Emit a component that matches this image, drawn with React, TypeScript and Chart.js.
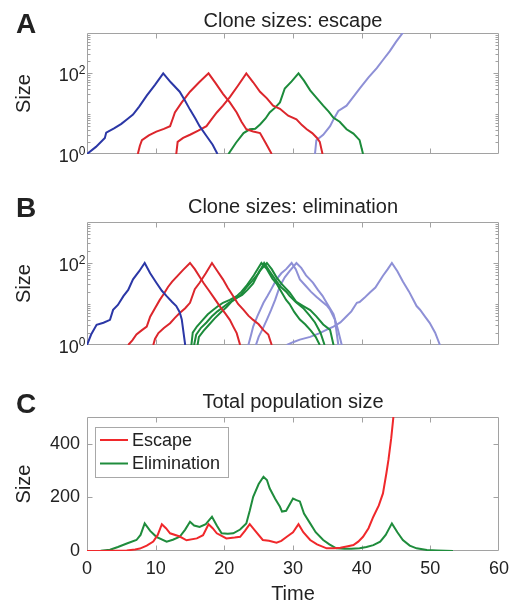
import React, { useEffect, useRef } from "react";
import { Chart, registerables } from "chart.js";

Chart.register(...registerables);

const FONT = "'Liberation Sans', Arial, Helvetica, sans-serif";
const TEXT = "#222222";
const AXIS = "#a2a2a2";

const DARK_BLUE = "#2b37a6";
const RED = "#dc262c";
const GREEN = "#1c8b3b";
const LAVENDER = "#8e90d6";
const ESC_RED = "#f0282b";
const ELIM_GREEN = "#1f8c3c";

// ---------- Panel A: clone sizes, escape ----------
const aBlueT = [0, 1.3, 2.6, 2.8, 4.0, 5.0, 5.8, 6.7, 7.6, 8.7, 9.9, 11.1, 12.2, 13.5, 14.2, 15.0, 15.8, 16.4, 17.4, 18.3, 19.0];
const aBlueS = [1, 1.5, 2.5, 3.4, 4.4, 5.6, 7.2, 9.5, 15, 28, 52, 100, 60, 35, 22, 12.6, 7.5, 4.9, 2.8, 1.7, 1];
const aRed1T = [7.4, 7.7, 8.0, 9.0, 10.1, 11.2, 12.1, 12.5, 12.8, 13.8, 15.0, 16.3, 17.7, 18.7, 19.8, 20.8, 21.8, 22.5, 23.2, 24.2, 25.2, 26.0, 26.9];
const aRed1S = [1, 1.6, 2.2, 2.9, 3.6, 4.2, 4.9, 7.6, 10.7, 19, 35, 59, 100, 58, 31, 19, 10.7, 6.3, 4.1, 3.6, 3.3, 1.9, 1];
const aRed2T = [13.0, 13.2, 14.0, 15.0, 16.2, 17.4, 18.1, 18.9, 19.8, 20.8, 22.0, 23.2, 24.2, 25.2, 26.2, 27.1, 28.1, 29.3, 30.5, 31.3, 32.0, 32.8, 33.5, 33.9, 34.3];
const aRed2S = [1, 2.0, 2.5, 3.0, 3.8, 4.9, 7.1, 10.7, 15.8, 25.7, 50, 100, 60, 35, 24, 15.8, 13.2, 8.9, 7.2, 5.2, 4.1, 3.3, 2.5, 2.0, 1];
const aGreenT = [20.6, 21.7, 22.8, 23.7, 24.5, 25.2, 26.0, 26.6, 27.4, 28.1, 28.8, 29.8, 30.8, 31.6, 32.5, 33.4, 34.4, 35.2, 35.9, 36.8, 37.8, 38.8, 39.7, 40.2];
const aGreenS = [1, 1.9, 3.3, 4.1, 4.2, 5.4, 7.6, 10.7, 14.1, 19, 42, 63, 100, 66, 38, 25, 15.8, 11.2, 7.9, 6.3, 4.1, 3.2, 2.2, 1];
const aLavT = [33.2, 33.4, 34.4, 35.4, 35.9, 36.6, 37.8, 38.7, 39.7, 41.0, 42.2, 43.1, 44.1, 45.0, 46.0, 46.5];
const aLavS = [1, 2.2, 3.0, 4.9, 7.2, 11.7, 15.8, 25, 42, 79, 135, 214, 355, 600, 1020, 1350];

// ---------- Panel B: clone sizes, elimination ----------
const bBlueT = [0, 0.6, 1.4, 2.4, 3.35, 3.8, 4.5, 5.3, 6.0, 6.7, 7.6, 8.4, 9.2, 10.1, 10.9, 11.6, 12.4, 13.0, 13.5, 13.8, 14.3];
const bBlueS = [1, 1.8, 3.1, 3.5, 4.1, 7.2, 9.5, 15.5, 22, 40, 63, 100, 56, 33, 21, 15.5, 11.2, 8.9, 6.3, 4.2, 1];
const bRed1T = [6.0, 6.6, 7.2, 8.0, 8.7, 9.2, 9.9, 10.6, 11.2, 11.8, 12.4, 13.05, 14.0, 15.0, 15.7, 16.4, 17.0, 17.7, 18.5, 19.4, 20.1, 20.8, 21.3, 21.8, 22.3];
const bRed1S = [1, 1.3, 1.8, 2.3, 2.8, 4.9, 7.9, 12.6, 17.8, 26, 35, 46, 68, 100, 71, 46, 32, 22, 14.1, 8.5, 6.0, 4.1, 2.8, 1.95, 1];
const bRed2T = [9.65, 9.9, 10.4, 11.2, 12.1, 12.8, 13.5, 14.3, 15.0, 15.7, 16.4, 17.3, 18.2, 19.0, 19.8, 20.5, 21.3, 22.0, 22.8, 23.5, 24.2, 25.0, 25.7, 26.4, 26.9];
const bRed2S = [1, 1.4, 1.95, 2.6, 3.4, 4.6, 6.0, 7.9, 10.7, 23, 33, 56, 100, 63, 40, 25, 15.5, 10, 7.2, 5.2, 4.1, 3.2, 2.3, 1.8, 1];
const bGreen1T = [15.2, 15.4, 16.0, 16.9, 17.6, 18.4, 19.1, 19.8, 20.8, 21.8, 22.5, 23.2, 24.3, 25.4, 26.2, 27.0, 27.6, 28.3, 29.0, 29.5, 30.2, 31.0, 31.8, 32.6, 33.3, 33.9];
const bGreen1S = [1, 2.0, 2.82, 4.17, 5.62, 7.24, 8.91, 10.7, 12.6, 15.5, 20, 27.5, 50.1, 100, 70.8, 41.7, 31.6, 20, 12.6, 10, 6.31, 4.17, 3.16, 2.24, 1.58, 1];
const bGreen2T = [15.6, 15.9, 16.6, 17.4, 18.2, 19.0, 19.8, 20.6, 21.5, 22.4, 23.2, 24.0, 25.0, 25.8, 26.6, 27.4, 28.2, 29.0, 29.5, 30.4, 31.5, 32.4, 33.2, 34.0, 34.6];
const bGreen2S = [1, 1.78, 2.63, 3.55, 5.01, 6.61, 8.32, 10.5, 13.2, 16.6, 25.1, 35.5, 56.2, 100, 63.1, 39.8, 26.3, 20, 15.8, 11.2, 7.94, 5.25, 3.55, 2.0, 1];
const bGreen3T = [16.1, 16.3, 17.0, 17.8, 18.6, 19.5, 20.3, 21.0, 21.8, 22.6, 23.4, 24.2, 25.1, 26.2, 26.9, 27.6, 28.4, 29.5, 30.5, 31.5, 32.5, 33.4, 34.4, 35.4, 35.9];
const bGreen3S = [1, 1.58, 2.24, 3.16, 4.47, 6.31, 8.32, 11.2, 14.1, 16.6, 22.4, 31.6, 63.1, 100, 70.8, 44.7, 30.2, 19.1, 11.2, 8.91, 7.08, 5.01, 3.16, 2.34, 1];
const bLav1T = [23.5, 23.9, 24.2, 24.8, 25.7, 26.3, 26.8, 27.6, 28.3, 29.0, 29.8, 30.4, 31.0, 31.8, 32.6, 33.4, 34.3, 35.0, 35.4, 36.1, 36.6];
const bLav1S = [1, 1.78, 2.82, 5.01, 10.7, 15.8, 22.4, 39.8, 56.2, 70.8, 100, 70.8, 39.8, 28.2, 20, 15.1, 11.2, 8.91, 7.24, 4.17, 1];
const bLav2T = [24.6, 25.0, 25.6, 26.2, 26.8, 27.4, 28.1, 28.8, 29.5, 30.5, 31.2, 31.9, 32.9, 33.6, 34.3, 35.0, 35.9, 36.5, 37.1];
const bLav2S = [1, 1.58, 2.51, 4.17, 7.08, 12.6, 27.5, 44.7, 63.1, 100, 75.9, 50.1, 33.1, 22.4, 15.8, 10, 5.62, 2.51, 1];
const bLav3T = [29.1, 30.0, 31.0, 32.5, 33.9, 35.0, 35.9, 36.9, 37.8, 38.5, 39.3, 39.7, 40.4, 41.2, 42.0, 43.1, 43.8, 44.4, 45.2, 46.0, 46.9, 48.0, 48.5, 49.2, 49.9, 50.7, 51.4];
const bLav3S = [1, 1.17, 1.35, 1.58, 1.95, 2.4, 2.82, 3.55, 5.01, 6.61, 10.7, 11.2, 14.1, 19.1, 25.1, 49, 70.8, 100, 63.1, 35.5, 20, 8.91, 7.24, 5.01, 3.47, 2.0, 1];

// ---------- Panel C: total population size ----------
const escT = [0, 2, 4, 5.8, 7.0, 7.7, 8.7, 9.65, 10.3, 10.9, 11.5, 12.1, 13.5, 14.5, 16.0, 16.9, 17.7, 18.3, 18.9, 20.3, 21.5, 22.3, 23.0, 23.7, 24.5, 25.6, 26.5, 27.6, 28.3, 29.1, 30.0, 30.8, 31.5, 32.5, 33.5, 34.9, 36.0, 36.9, 38.0, 38.8, 39.5, 40.2, 41.0, 41.7, 42.5, 43.1, 43.6, 43.9, 44.3, 44.6, 44.9];
const escN = [0, 0, 1, 2, 6, 9, 20, 35, 60, 100, 85, 66, 54, 40, 47, 59, 100, 85, 66, 47, 50, 53, 75, 100, 75, 41, 38, 31, 38, 53, 70, 100, 70, 41, 25, 10, 10, 12, 18, 22, 35, 53, 85, 128, 170, 215, 290, 340, 420, 495, 600];
const elimT = [0, 2, 3.35, 4.5, 5.8, 7.2, 7.8, 8.4, 9.2, 10.1, 11.6, 12.5, 13.5, 14.3, 15.0, 15.6, 16.4, 17.3, 18.2, 18.9, 19.6, 20.5, 21.3, 22.3, 23.2, 23.7, 24.2, 25.0, 25.7, 26.2, 26.6, 27.4, 28.1, 28.4, 29.0, 30.0, 30.5, 31.0, 31.6, 32.5, 33.3, 34.4, 35.3, 36.3, 37.5, 38.5, 39.7, 40.7, 41.7, 42.7, 43.5, 44.4, 45.2, 46.0, 47.0, 48.0, 49.5, 51.0, 53.3];
const elimN = [0, 1, 5, 15, 28, 41, 60, 103, 75, 53, 35, 42, 53, 80, 109, 95, 90, 100, 128, 95, 66, 64, 66, 80, 103, 150, 202, 250, 277, 265, 234, 195, 165, 147, 150, 196, 190, 185, 140, 103, 70, 41, 25, 10, 8, 8, 10, 15, 22, 35, 60, 103, 70, 41, 20, 10, 4, 2, 0];

// ---------- ticks / labels ----------
const xTickValues = [0, 10, 20, 30, 40, 50, 60];
const logMajorTicks = [1, 100, 1000];
const logMinorTicks = [2, 3, 4, 5, 6, 7, 8, 9, 10, 20, 30, 40, 50, 60, 70, 80, 90, 200, 300, 400, 500, 600, 700, 800, 900];
const logLabelValues = [1, 100];
const logLabelExps = ["0", "2"];
const popTickValues = [0, 200, 400];
const legendLabels = ["Escape", "Elimination"];
const legendColors = [ESC_RED, ELIM_GREEN];

function series(t: number[], v: number[], color: string) {
  return {
    data: t.map((x, i) => ({ x, y: v[i] })),
    borderColor: color,
    backgroundColor: color,
    borderWidth: 2,
    pointRadius: 0,
    tension: 0,
    fill: false,
  };
}

type FrameCfg = {
  letter: string;
  letterY: number;
  title: string;
  titleY: number;
  log: boolean;
  legend: boolean;
};

function framePlugin(cfg: FrameCfg) {
  return {
    id: "frame" + cfg.letter,
    beforeDatasetsDraw(chart: any) {
      const { ctx, chartArea: a } = chart;
      const xs = chart.scales.x;
      const ys = chart.scales.y;
      const L = Math.round(a.left) + 0.5;
      const R = Math.round(a.right) - 0.5;
      const T = Math.round(a.top) + 0.5;
      const B = Math.round(a.bottom) - 0.5;
      ctx.save();
      ctx.strokeStyle = AXIS;
      ctx.lineWidth = 1;
      ctx.beginPath();
      ctx.rect(L, T, R - L, B - T);
      for (const v of xTickValues) {
        const px = Math.round(xs.getPixelForValue(v)) + 0.5;
        if (px < L + 2 || px > R - 2) continue;
        ctx.moveTo(px, B);
        ctx.lineTo(px, B - 5);
        ctx.moveTo(px, T);
        ctx.lineTo(px, T + 5);
      }
      const yTick = (v: number, len: number) => {
        const py = Math.round(ys.getPixelForValue(v)) + 0.5;
        if (py < T + 1 || py > B - 1) return;
        ctx.moveTo(L, py);
        ctx.lineTo(L + len, py);
        ctx.moveTo(R, py);
        ctx.lineTo(R - len, py);
      };
      if (cfg.log) {
        logMajorTicks.forEach((v) => yTick(v, 5));
        logMinorTicks.forEach((v) => yTick(v, 3));
      } else {
        popTickValues.forEach((v) => yTick(v, 5));
      }
      ctx.stroke();
      ctx.restore();
    },
    afterDraw(chart: any) {
      const { ctx, chartArea: a } = chart;
      const ys = chart.scales.y;
      ctx.save();
      ctx.fillStyle = TEXT;
      ctx.textBaseline = "alphabetic";
      // panel letter
      ctx.textAlign = "left";
      ctx.font = `bold 28px ${FONT}`;
      ctx.fillText(cfg.letter, 16, cfg.letterY);
      // title
      ctx.textAlign = "center";
      ctx.font = `20px ${FONT}`;
      ctx.fillText(cfg.title, (a.left + a.right) / 2, cfg.titleY);
      // log tick labels (10 with superscript)
      if (cfg.log) {
        for (let i = 0; i < logLabelValues.length; i++) {
          const py = ys.getPixelForValue(logLabelValues[i]);
          ctx.textAlign = "right";
          ctx.font = `12px ${FONT}`;
          const ew = ctx.measureText(logLabelExps[i]).width;
          ctx.fillText(logLabelExps[i], 85.5, py + 1);
          ctx.font = `18px ${FONT}`;
          ctx.fillText("10", 85.5 - ew, py + 8);
        }
      }
      // legend
      if (cfg.legend) {
        const bx = Math.round(a.left) + 8;
        const by = Math.round(a.top) + 10;
        const bw = 133;
        const bh = 50;
        ctx.fillStyle = "#ffffff";
        ctx.fillRect(bx, by, bw, bh);
        ctx.strokeStyle = "#a8a8a8";
        ctx.lineWidth = 1;
        ctx.strokeRect(bx + 0.5, by + 0.5, bw, bh);
        ctx.font = `18px ${FONT}`;
        ctx.textAlign = "left";
        ctx.textBaseline = "middle";
        for (let i = 0; i < legendLabels.length; i++) {
          const ly = by + 13 + i * 23.5;
          ctx.strokeStyle = legendColors[i];
          ctx.lineWidth = 2;
          ctx.beginPath();
          ctx.moveTo(bx + 5, ly);
          ctx.lineTo(bx + 33, ly);
          ctx.stroke();
          ctx.fillStyle = TEXT;
          ctx.fillText(legendLabels[i], bx + 37, ly + 1);
        }
      }
      ctx.restore();
    },
  };
}

function logConfig(datasets: any[], areaTop: number, xHeight: number, frame: FrameCfg) {
  return {
    type: "line",
    data: { datasets },
    plugins: [framePlugin(frame)],
    options: {
      responsive: false,
      animation: false,
      events: [],
      layout: { padding: { left: 0, right: 10, top: areaTop, bottom: 0 } },
      plugins: { legend: { display: false }, tooltip: { enabled: false }, title: { display: false } },
      scales: {
        x: {
          type: "linear",
          min: 0,
          max: 60,
          ticks: { display: false },
          grid: { display: false, drawTicks: false },
          border: { display: false },
          afterFit: (s: any) => {
            s.height = xHeight;
            s.paddingLeft = 0;
            s.paddingRight = 0;
          },
        },
        y: {
          type: "logarithmic",
          min: 1,
          max: 1000,
          ticks: { display: false },
          grid: { display: false, drawTicks: false },
          border: { display: false },
          title: { display: true, text: "Size", color: TEXT, font: { family: FONT, size: 20 }, padding: { top: 12, bottom: 0 } },
          afterFit: (s: any) => {
            s.width = 87;
            s.paddingTop = 0;
            s.paddingBottom = 0;
          },
        },
      },
    },
  };
}

function popConfig() {
  return {
    type: "line",
    data: {
      datasets: [series(escT, escN, ESC_RED), series(elimT, elimN, ELIM_GREEN)],
    },
    plugins: [
      framePlugin({ letter: "C", letterY: 43, title: "Total population size", titleY: 38, log: false, legend: true }),
    ],
    options: {
      responsive: false,
      animation: false,
      events: [],
      layout: { padding: { left: 0, right: 10, top: 47, bottom: 0 } },
      plugins: { legend: { display: false }, tooltip: { enabled: false }, title: { display: false } },
      scales: {
        x: {
          type: "linear",
          min: 0,
          max: 60,
          ticks: {
            stepSize: 10,
            autoSkip: false,
            maxRotation: 0,
            padding: 7,
            color: TEXT,
            font: { family: FONT, size: 18 },
          },
          grid: { display: false, drawTicks: false },
          border: { display: false },
          title: { display: true, text: "Time", color: TEXT, font: { family: FONT, size: 20 }, padding: { top: 0, bottom: 0 } },
          afterFit: (s: any) => {
            s.height = 55;
            s.paddingLeft = 0;
            s.paddingRight = 0;
          },
        },
        y: {
          type: "linear",
          min: 0,
          max: 500,
          ticks: {
            stepSize: 200,
            includeBounds: false,
            padding: 7,
            color: TEXT,
            font: { family: FONT, size: 18 },
          },
          grid: { display: false, drawTicks: false },
          border: { display: false },
          title: { display: true, text: "Size", color: TEXT, font: { family: FONT, size: 20 }, padding: { top: 12, bottom: 0 } },
          afterFit: (s: any) => {
            s.width = 87;
            s.paddingTop = 0;
            s.paddingBottom = 0;
          },
        },
      },
    },
  };
}

export default function App() {
  const refA = useRef<HTMLCanvasElement>(null);
  const refB = useRef<HTMLCanvasElement>(null);
  const refC = useRef<HTMLCanvasElement>(null);

  useEffect(() => {
    const dsA = [
      series(aBlueT, aBlueS, DARK_BLUE),
      series(aRed1T, aRed1S, RED),
      series(aRed2T, aRed2S, RED),
      series(aGreenT, aGreenS, GREEN),
      series(aLavT, aLavS, LAVENDER),
    ];
    const dsB = [
      series(bBlueT, bBlueS, DARK_BLUE),
      series(bRed1T, bRed1S, RED),
      series(bRed2T, bRed2S, RED),
      series(bGreen1T, bGreen1S, GREEN),
      series(bGreen2T, bGreen2S, GREEN),
      series(bGreen3T, bGreen3S, GREEN),
      series(bLav1T, bLav1S, LAVENDER),
      series(bLav2T, bLav2S, LAVENDER),
      series(bLav3T, bLav3S, LAVENDER),
    ];
    const charts = [
      new Chart(
        refA.current as HTMLCanvasElement,
        logConfig(dsA, 33, 21, { letter: "A", letterY: 33, title: "Clone sizes: escape", titleY: 27, log: true, legend: false }) as any
      ),
      new Chart(
        refB.current as HTMLCanvasElement,
        logConfig(dsB, 37, 15, { letter: "B", letterY: 32, title: "Clone sizes: elimination", titleY: 28, log: true, legend: false }) as any
      ),
      new Chart(refC.current as HTMLCanvasElement, popConfig() as any),
    ];
    return () => charts.forEach((c) => c.destroy());
  }, []);

  return (
    <div style={{ position: "absolute", left: 0, top: 0, width: 509, height: 606, background: "#ffffff", overflow: "hidden" }}>
      <canvas ref={refA} width={509} height={175} style={{ position: "absolute", left: 0, top: 0, width: 509, height: 175 }} />
      <canvas ref={refB} width={509} height={175} style={{ position: "absolute", left: 0, top: 185, width: 509, height: 175 }} />
      <canvas ref={refC} width={509} height={236} style={{ position: "absolute", left: 0, top: 370, width: 509, height: 236 }} />
    </div>
  );
}
